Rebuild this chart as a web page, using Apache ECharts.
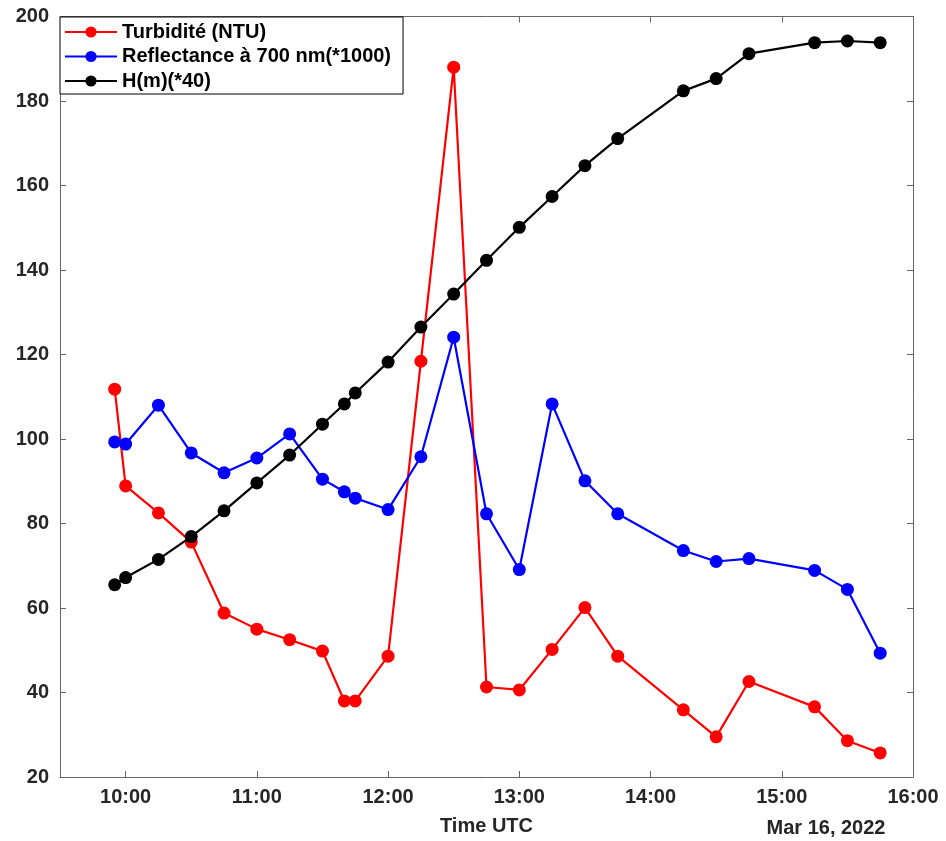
<!DOCTYPE html>
<html>
<head>
<meta charset="utf-8">
<script src="https://cdn.jsdelivr.net/npm/echarts@6/dist/echarts.min.js"></script>
<style>
html,body{margin:0;padding:0;background:#fff;}
#chart{width:946px;height:841px;}
</style>
</head>
<body>
<div id="chart"></div>
<script>
const times = ["09:55","10:00","10:15","10:30","10:45","11:00","11:15","11:30","11:40","11:45","12:00","12:15","12:30","12:45","13:00","13:15","13:30","13:45","14:15","14:30","14:45","15:15","15:30","15:45"];
const turbidity = [111.8, 88.9, 82.5, 75.6, 58.8, 55.0, 52.5, 49.8, 38.0, 38.0, 48.6, 118.4, 188.0, 41.3, 40.6, 50.2, 60.1, 48.6, 35.9, 29.5, 42.6, 36.6, 28.6, 25.7];
const reflectance = [99.3, 98.8, 108.0, 96.7, 92.0, 95.5, 101.2, 90.5, 87.5, 86.0, 83.3, 95.8, 124.1, 82.3, 69.1, 108.3, 90.1, 82.3, 73.6, 71.0, 71.7, 68.9, 64.4, 49.3];
const height = [65.5, 67.2, 71.5, 76.9, 83.0, 89.6, 96.2, 103.5, 108.3, 110.9, 118.2, 126.5, 134.3, 142.3, 150.1, 157.4, 164.7, 171.1, 182.4, 185.3, 191.2, 193.8, 194.2, 193.8];
const xTickLabels = ["10:00","11:00","12:00","13:00","14:00","15:00","16:00"];
const seriesNames = ["Turbidité (NTU)", "Reflectance à 700 nm(*1000)", "H(m)(*40)"];
const xTitle = "Time UTC";
const dateLabel = "Mar 16, 2022";

function toMin(s){ const p = s.split(":"); return (+p[0])*60 + (+p[1]); }
const xs = times.map(toMin);
const xTickVals = xTickLabels.map(toMin);
const pair = arr => arr.map((v,i)=>[xs[i], v]);

const FONT = "'Liberation Sans', Arial, Helvetica, sans-serif";
const TXT = '#262626';
const AX = '#666';
const FS = 20;

const chart = echarts.init(document.getElementById('chart'));

function mkSeries(name, data, color, z){
  return {
    name, type:'line', data: pair(data), z,
    symbol:'circle', symbolSize:13,
    lineStyle:{color, width:2.2},
    itemStyle:{color},
    emphasis:{disabled:true},
    animation:false
  };
}

chart.setOption({
  animation:false,
  backgroundColor:'#fff',
  grid:{left:60, right:33, top:16.5, bottom:63, containLabel:false},
  xAxis:[{
    type:'value', min:570, max:960,
    axisLine:{show:true, lineStyle:{color:AX, width:1}},
    axisTick:{show:true, inside:true, length:6, lineStyle:{color:AX}, customValues:xTickVals},
    axisLabel:{customValues:xTickVals, margin:10, color:TXT, fontSize:FS, fontWeight:'bold', fontFamily:FONT,
      formatter:v=>{ const i = xTickVals.indexOf(v); return i>=0 ? xTickLabels[i] : ''; }},
    splitLine:{show:false},
    name:xTitle, nameLocation:'middle', nameGap:39,
    nameTextStyle:{color:TXT, fontSize:FS, fontWeight:'bold', fontFamily:FONT}
  },{
    type:'value', min:570, max:960, position:'top',
    axisLine:{show:true, lineStyle:{color:AX, width:1}},
    axisTick:{show:true, inside:true, length:6, lineStyle:{color:AX}, customValues:xTickVals},
    axisLabel:{show:false},
    splitLine:{show:false}
  }],
  yAxis:[{
    type:'value', min:20, max:200, interval:20,
    axisLine:{show:true, lineStyle:{color:AX, width:1}},
    axisTick:{show:true, inside:true, length:6, lineStyle:{color:AX}},
    axisLabel:{margin:11, color:TXT, fontSize:FS, fontWeight:'bold', fontFamily:FONT},
    splitLine:{show:false}
  },{
    type:'value', min:20, max:200, interval:20, position:'right',
    axisLine:{show:true, lineStyle:{color:AX, width:1}},
    axisTick:{show:true, inside:true, length:6, lineStyle:{color:AX}},
    axisLabel:{show:false},
    splitLine:{show:false}
  }],
  legend:{
    orient:'vertical', left:60, top:17,
    data:seriesNames,
    itemWidth:52, itemHeight:14, itemGap:2.5,
    padding:[4,12,2,4],
    borderColor:'#000', borderWidth:1, backgroundColor:'#fff',
    textStyle:{color:'#000', fontSize:FS, fontWeight:'bold', fontFamily:FONT, lineHeight:22},
    selectedMode:false
  },
  graphic:[{
    type:'text', x:826, y:828,
    style:{text:dateLabel, fill:TXT, fontSize:FS, fontWeight:'bold', fontFamily:FONT, align:'center', verticalAlign:'middle'}
  }],
  series:[
    mkSeries(seriesNames[0], turbidity, '#ff0000', 2),
    mkSeries(seriesNames[1], reflectance, '#0000ff', 3),
    mkSeries(seriesNames[2], height, '#000000', 4)
  ]
});
</script>
</body>
</html>
